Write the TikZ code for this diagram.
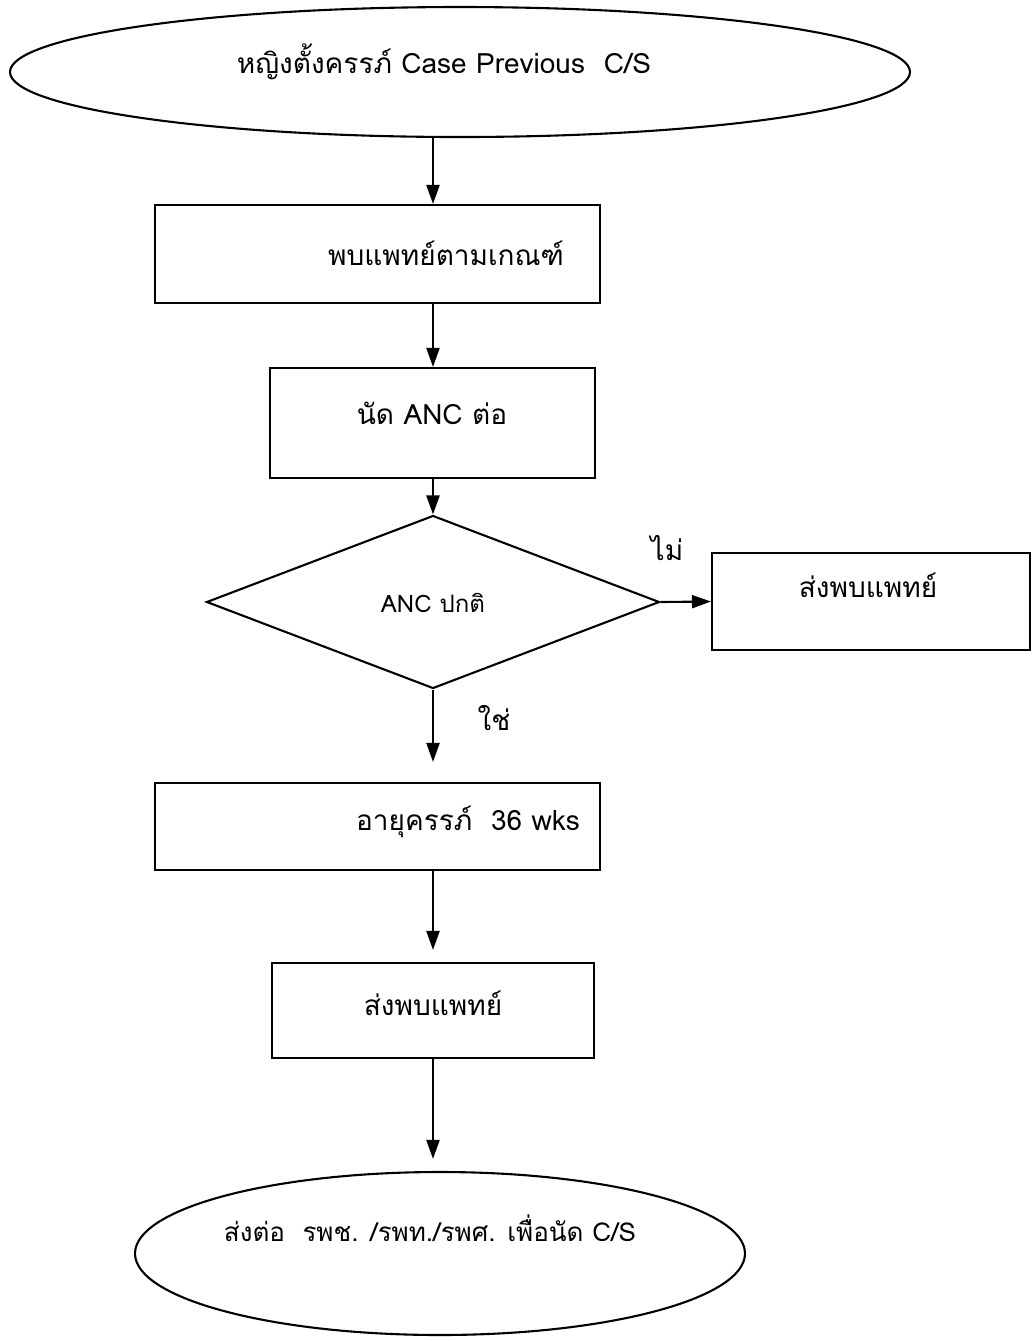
\documentclass[tikz,border=0pt]{standalone}
\usepackage{fontspec}
\newfontfamily\thaifont[Script=Thai]{Loma}
\usetikzlibrary{arrows.meta,shapes.geometric}

\begin{document}
\begin{tikzpicture}[x=0.5pt, y=-0.5pt, >={Triangle[length=9.5pt,width=6.5pt]},
  line width=1.05pt, font=\thaifont\fontsize{14}{17}\selectfont,
  ov/.style={draw, ellipse, inner sep=0pt},
  bx/.style={draw, rectangle, inner sep=0pt},
  dm/.style={draw, diamond, inner sep=0pt},
  txt/.style={inner sep=1pt}]
  \useasboundingbox (0,0) rectangle (1033,1341);

  % shapes of the flow
  \node[ov, minimum width=450pt, minimum height=65pt] (start) at (460,72) {};
  \node[bx, minimum width=222.5pt, minimum height=49pt] (meet) at (377.5,254) {};
  \node[bx, minimum width=162.5pt, minimum height=55pt] (anc) at (432.5,423) {};
  \node[dm, minimum width=226.5pt, minimum height=86.5pt] (ok) at (433,602) {};
  \node[bx, minimum width=159pt, minimum height=48.5pt] (refer) at (871,601.5) {};
  \node[bx, minimum width=222.5pt, minimum height=43.5pt] (ga) at (377.5,826.5) {};
  \node[bx, minimum width=161pt, minimum height=47.5pt] (doc) at (433,1010.5) {};
  \node[ov, minimum width=305pt, minimum height=81.5pt] (stop) at (440,1253.5) {};

  % texts, set high in their shapes
  \node[txt] (startT) at (444,62) {หญิงตั้งครรภ์ Case Previous\ \ C/S};
  \node[txt] (meetT) at (446,253) {พบแพทย์ตามเกณฑ์};
  \node[txt] (ancT) at (432,413) {นัด ANC ต่อ};
  \node[txt, font=\thaifont\fontsize{12}{14}\selectfont] (okT) at (433,603) {ANC ปกติ};
  \node[txt] (referT) at (868,585) {ส่งพบแพทย์};
  \node[txt] (gaT) at (468,822) {อายุครรภ์\ \ 36 wks};
  \node[txt] (docT) at (433,1003) {ส่งพบแพทย์};
  \node[txt, font=\thaifont\fontsize{13}{16}\selectfont] (stopT) at (430,1228) {ส่งต่อ\ \ รพช. /รพท./รพศ. เพื่อนัด C/S};
  \node[txt] (no) at (667,548) {ไม่};
  \node[txt] (yes) at (494,718) {ใช่};

  % arrows
  \draw[->] (start.south -| ok.north) -- (meet.north -| ok.north);
  \draw[->] (meet.south -| ok.north) -- (anc.north -| ok.north);
  \draw[->] (anc.south -| ok.north) -- (ok.north);
  \draw[->] (ok.east) -- (refer.west);
  \draw[->, shorten >=10pt] (ok.south) -- (ga.north -| ok.south);
  \draw[->, shorten >=6pt] (ga.south -| ok.south) -- (doc.north);
  \draw[->, shorten >=6pt] (doc.south) -- (stop.north -| doc.south);
\end{tikzpicture}
\end{document}
